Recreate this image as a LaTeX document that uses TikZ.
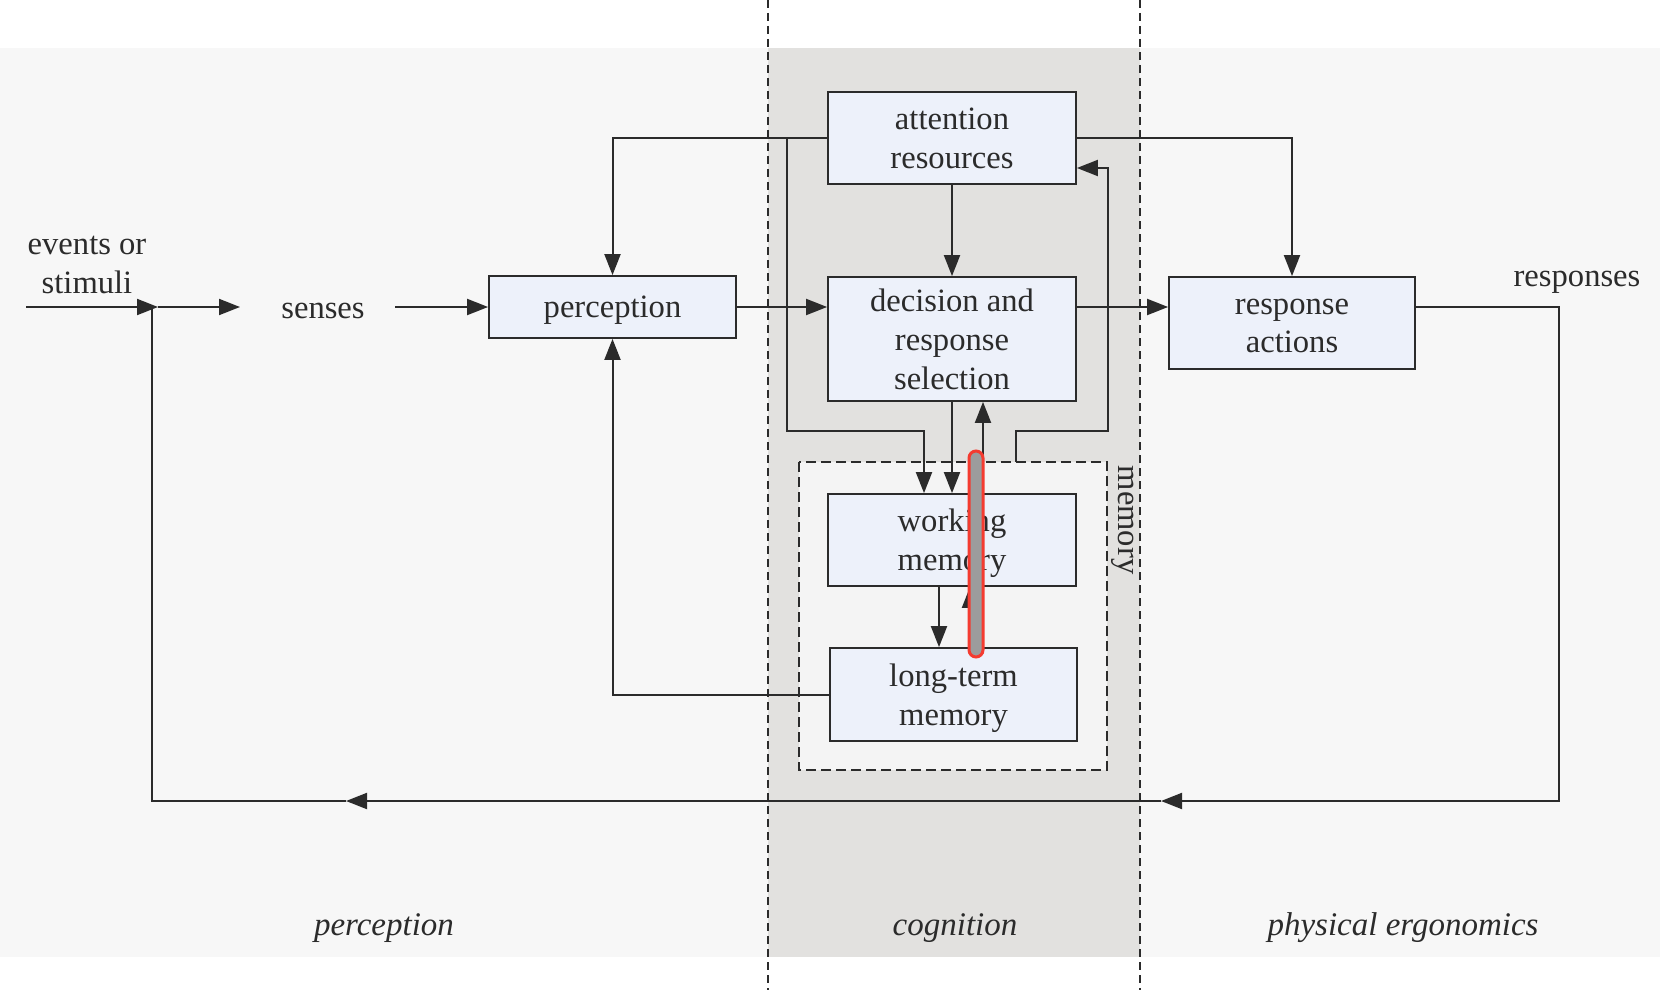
\documentclass[tikz,border=0pt]{standalone}
\usepackage{fontspec}
\setmainfont{Liberation Serif}
\usetikzlibrary{arrows.meta,calc}
\definecolor{band}{HTML}{F7F7F7}
\definecolor{colgray}{HTML}{E2E1DF}
\definecolor{boxfill}{HTML}{EDF1FA}
\definecolor{memfill}{HTML}{F4F4F4}
\definecolor{ink}{HTML}{2B2B2B}
\definecolor{hlred}{HTML}{F43B30}
\definecolor{hlgray}{HTML}{9C9C9C}
\tikzset{
  txt/.style={font=\fontsize{16.3}{19.5}\selectfont, text=ink, align=center, inner sep=0pt},
  itxt/.style={font=\fontsize{16.5}{19.5}\selectfont\itshape, text=ink, inner sep=0pt},
  blk/.style={txt, draw=ink, fill=boxfill, line width=0.9pt},
  nodepth/.style={text depth=0pt},
  wire/.style={draw=ink, line width=1pt},
  arr/.style={wire, -{Triangle[length=10.5pt,width=8pt]}},
  sep/.style={draw=ink, line width=0.8pt, dash pattern=on 4pt off 2.5pt},
  memline/.style={draw=ink, line width=0.8pt, dash pattern=on 5pt off 2.5pt}
}
\begin{document}
\begin{tikzpicture}[x=0.5pt,y=-0.5pt]
\useasboundingbox (0,0) rectangle (1660,990);
% backgrounds
\fill[white] (0,0) rectangle (1660,990);
\fill[band] (0,48) rectangle (1660,957);
\fill[colgray] (768,48) rectangle (1140,957);
\draw[sep] (768,0) -- (768,990);
\draw[sep] (1140,0) -- (1140,990);
% memory group
\draw[memline, fill=memfill] (799,462) rectangle (1107,770);
\node[txt, rotate=-90] (memlab) at (1123,520) {memory};
% blocks
\node[blk, minimum width=124pt, minimum height=46pt] (att) at (952,138) {attention\\resources};
\node[blk, minimum width=124pt, minimum height=62pt] (dec) at (952,339) {decision and\\response\\selection};
\node[blk, nodepth, minimum width=123.5pt, minimum height=31pt] (perc) at (612.5,307) {perception};
\node[blk, minimum width=123pt, minimum height=46pt] (ra) at (1292,323) {\raisebox{-1.5pt}[\height][\depth]{\shortstack{response\\[2pt]actions}}};
\node[blk, nodepth, minimum width=124pt, minimum height=46pt] (wm) at (952,540) {working\\memory};
\node[blk, nodepth, minimum width=123.5pt, minimum height=46.5pt] (ltm) at (953.5,694.5) {long-term\\memory};
% free texts
\node[txt] (ev) at (87,265) {events or\\stimuli};
\node[txt] (sen) at (323,311) {senses};
\node[txt, nodepth] (resp) at (1577,279) {responses};
\node[itxt] (l1) at (384,928) {perception};
\node[itxt] (l2) at (955,928) {cognition};
\node[itxt] (l3) at (1403,928) {physical ergonomics};
% coordinates
\coordinate (in) at (26,307);
\coordinate (j) at (158,307);
\coordinate (jv) at (152,307);
\coordinate (sIn) at (240,307);
\coordinate (sOut) at (395,307);
\coordinate (main) at (0,307);
\coordinate (tL) at (787,138);
\coordinate (tLb) at (787,431);
\coordinate (xWa) at (924,0);
\coordinate (xUp) at (983,0);
\coordinate (memTop) at (0,462);
\coordinate (mt2) at (1016,462);
\coordinate (rb) at (1108,431);
\coordinate (rt) at (1108,168);
\coordinate (xDn) at (939,0);
\coordinate (xLU) at (970,0);
\coordinate (fbR) at (1559,801);
\coordinate (fbA) at (1161,801);
\coordinate (fbB) at (346,801);
% connectors
\draw[arr] (in) -- (j);
\draw[arr] (j) -- (sIn);
\draw[arr] (sOut) -- (perc.west);
\draw[arr] (perc.east) -- (perc.east -| dec.west);
\draw[arr] (main -| dec.east) -- (main -| ra.west);
\draw[arr] (att.west) -| (perc.north);
\draw[arr] (att.east) -| (ra.north);
\draw[arr] (att.south) -- (dec.north);
\draw[arr] (tL) -- (tLb) -| (wm.north -| xWa);
\draw[arr] (dec.south) -- (wm.north);
\draw[arr] (memTop -| xUp) -- (dec.south -| xUp);
\draw[arr] (mt2) |- (rb) -- (rt) -- (rt -| att.east);
\draw[arr] (wm.south -| xDn) -- (ltm.north -| xDn);
\draw[arr] (ltm.north -| xLU) -- (wm.south -| xLU);
\draw[arr] (ltm.west) -| (perc.south);
\draw[arr] (main -| ra.east) -| (fbR) -- (fbA);
\draw[arr] (fbA) -- (fbB);
\draw[wire] (fbB) -| (jv);
% highlight
\draw[hlred, line width=1.5pt, fill=hlgray, rounded corners=3.5pt] (969,451) rectangle (983,657);
\end{tikzpicture}
\end{document}
